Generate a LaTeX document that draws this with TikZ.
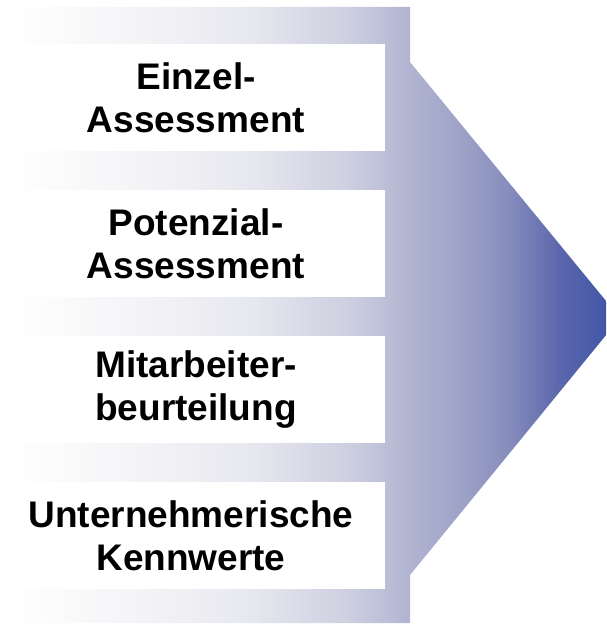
\documentclass[tikz,border=0pt]{standalone}
\usepackage{fontspec}
\setmainfont{Liberation Sans}
\pgfdeclarehorizontalshading{arrowfade}{100bp}{%
  color(0bp)=(white);
  color(25bp)=(white);
  color(36bp)=(rgb,255:red,244;green,244;blue,247);
  color(45bp)=(rgb,255:red,231;green,231;blue,239);
  color(53bp)=(rgb,255:red,205;green,207;blue,224);
  color(58bp)=(rgb,255:red,176;green,179;blue,208);
  color(62bp)=(rgb,255:red,158;green,163;blue,199);
  color(66bp)=(rgb,255:red,134;green,140;blue,188);
  color(70bp)=(rgb,255:red,92;green,103;blue,172);
  color(75bp)=(rgb,255:red,58;green,82;blue,166);
  color(100bp)=(rgb,255:red,58;green,82;blue,166)}
\tikzset{
  infobox/.style={fill=white, draw=none},
  label text/.style={font=\bfseries\fontsize{37}{43}\selectfont, align=center,
    text=black, inner sep=0pt}
}
\begin{document}
\begin{tikzpicture}[x=1pt, y=-1pt]
  \useasboundingbox (0,0) rectangle (606,626);
  \begin{scope}
    \clip (0,0) rectangle (606,626);
    % arrow-shaped backdrop with a white-to-blue fade
    \shade[shading=arrowfade]
      (6,7) -- (410,7) -- (410,62) -- (620,318) -- (410,575)
      -- (410,623) -- (6,623) -- cycle;
  \end{scope}
  % white panels
  \fill[infobox] (13,44) rectangle (385,151);
  \fill[infobox] (13,190) rectangle (385,297);
  \fill[infobox] (13,336) rectangle (385,443);
  \fill[infobox] (13,482) rectangle (385,589);
  % panel labels
  \node[label text] (t1) at (196,98) {Einzel-\\Assessment};
  \node[label text] (t2) at (196,244) {Potenzial-\\Assessment};
  \node[label text] (t3) at (196,390) {Mitarbeiter-\\beurteilung};
  \node[label text] (t4) at (191,536) {Unternehmerische\\Kennwerte};
\end{tikzpicture}
\end{document}
